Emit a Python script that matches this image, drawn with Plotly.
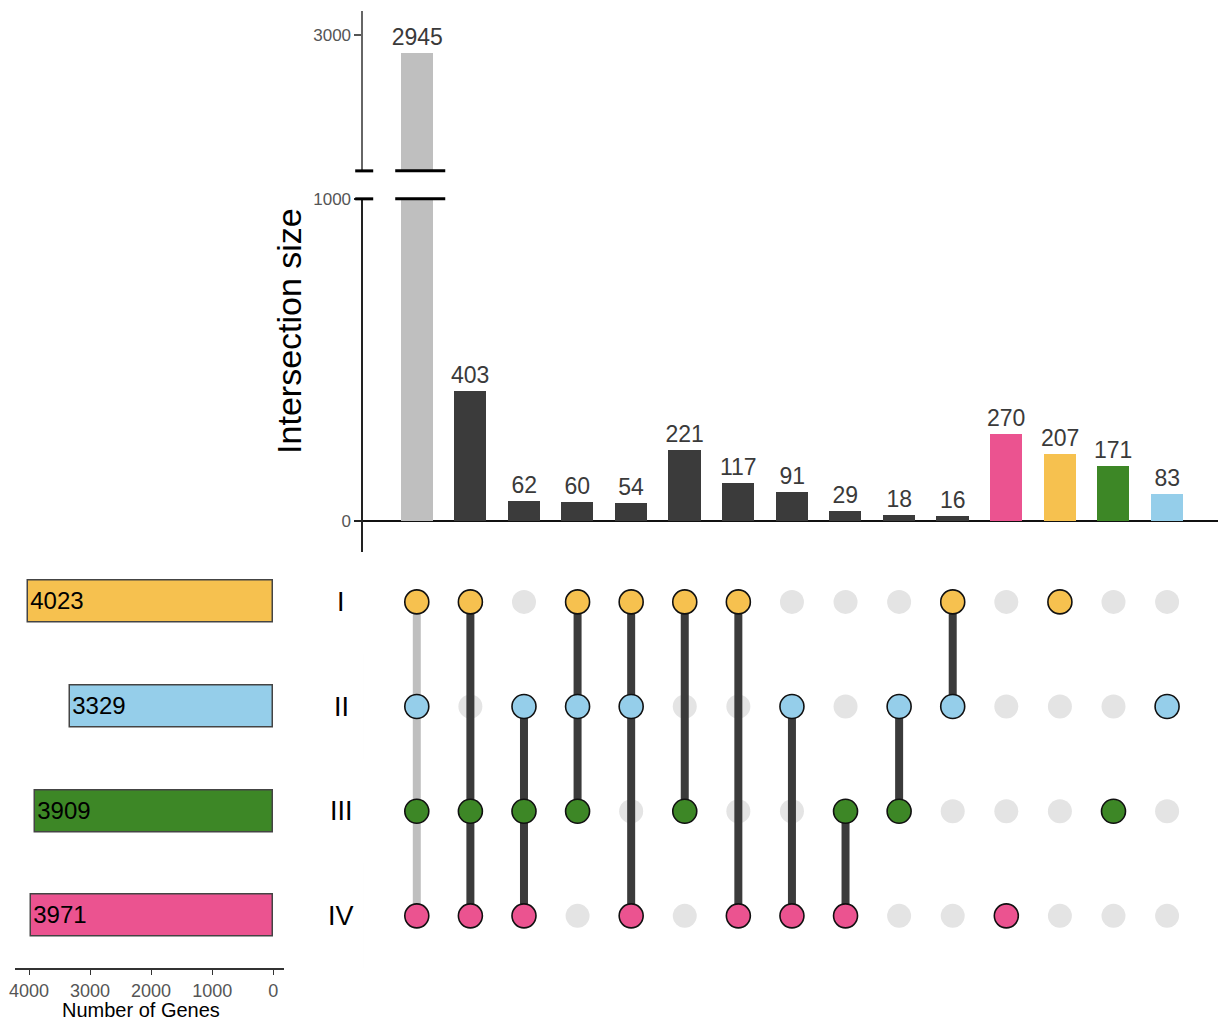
import plotly.graph_objects as go

# ---------------- data ----------------
set_names = ["I", "II", "III", "IV"]
set_sizes = [4023, 3329, 3909, 3971]
set_colors = ["#F6C14F", "#95CEEA", "#3D8726", "#EB5390"]

intersection_sizes = [2945, 403, 62, 60, 54, 221, 117, 91, 29, 18, 16, 270, 207, 171, 83]
intersection_members = [
    ["I", "II", "III", "IV"],
    ["I", "III", "IV"],
    ["II", "III", "IV"],
    ["I", "II", "III"],
    ["I", "II", "IV"],
    ["I", "III"],
    ["I", "IV"],
    ["II", "IV"],
    ["III", "IV"],
    ["II", "III"],
    ["I", "II"],
    ["IV"],
    ["I"],
    ["III"],
    ["II"],
]
bar_colors = ["#BFBFBF"] + ["#3B3B3B"] * 10 + ["#EB5390", "#F6C14F", "#3D8726", "#95CEEA"]
line_colors = ["#BFBFBF"] + ["#3B3B3B"] * 14

lower_ticks = [0, 1000]
upper_ticks = [3000]
set_ticks = [4000, 3000, 2000, 1000, 0]

# ---------------- layout helpers ----------------
W, H = 1218, 1020
FONT = "Liberation Sans, Arial, sans-serif"
OFFX, SCX = 6.0, 0.9945   # small calibration of page placement
OFFY, SCY = 8.0, 0.992


def px(x):
    return min(1.0, max(0.0, (x - OFFX) / SCX / W))


def py(y):
    return min(1.0, max(0.0, 1 - (y - OFFY) / SCY / H))


row_val = {name: len(set_names) - 1 - i for i, name in enumerate(set_names)}
cols = list(range(len(intersection_sizes)))

fig = go.Figure()

# ---- intersection bars (lower segment) ----
lower_text = ["" if v > 1000 else str(v) for v in intersection_sizes]
fig.add_trace(go.Bar(
    x=cols, y=intersection_sizes, xaxis="x", yaxis="y",
    width=0.6, marker=dict(color=bar_colors, line=dict(width=0)),
    text=lower_text, textposition="outside", cliponaxis=False, constraintext="none",
    textfont=dict(size=23, color="#3a3a3a", family=FONT),
    showlegend=False, hoverinfo="x+y",
))

# ---- intersection bars (upper segment, only the big one) ----
big = [i for i, v in enumerate(intersection_sizes) if v > 1000]
fig.add_trace(go.Bar(
    x=[cols[i] for i in big], y=[intersection_sizes[i] for i in big],
    xaxis="x", yaxis="y2", width=0.6,
    marker=dict(color=[bar_colors[i] for i in big], line=dict(width=0)),
    text=[str(intersection_sizes[i]) for i in big], textposition="outside",
    cliponaxis=False, constraintext="none",
    textfont=dict(size=23, color="#3a3a3a", family=FONT),
    showlegend=False,
))

# ---- matrix: inactive dots ----
in_x, in_y = [], []
for c, mem in zip(cols, intersection_members):
    for s in set_names:
        if s not in mem:
            in_x.append(c)
            in_y.append(row_val[s])
fig.add_trace(go.Scatter(
    x=in_x, y=in_y, xaxis="x", yaxis="y3", mode="markers",
    marker=dict(size=24, color="#E4E4E4", line=dict(width=0)),
    showlegend=False, hoverinfo="skip",
))

# ---- matrix: connecting lines ----
for color in sorted(set(line_colors)):
    lx, ly = [], []
    for c, mem in zip(cols, intersection_members):
        if line_colors[c] != color or len(mem) < 2:
            continue
        vals = [row_val[m] for m in mem]
        lx += [c, c, None]
        ly += [min(vals), max(vals), None]
    fig.add_trace(go.Scatter(
        x=lx, y=ly, xaxis="x", yaxis="y3", mode="lines",
        line=dict(color=color, width=8), showlegend=False, hoverinfo="skip",
    ))

# ---- matrix: active dots ----
ax_, ay_, ac_ = [], [], []
for c, mem in zip(cols, intersection_members):
    for s in mem:
        ax_.append(c)
        ay_.append(row_val[s])
        ac_.append(set_colors[set_names.index(s)])
fig.add_trace(go.Scatter(
    x=ax_, y=ay_, xaxis="x", yaxis="y3", mode="markers",
    marker=dict(size=24, color=ac_, line=dict(width=1.6, color="#111111")),
    showlegend=False, hoverinfo="skip",
))

# ---- set size bars ----
fig.add_trace(go.Bar(
    x=set_sizes, y=[row_val[s] for s in set_names], orientation="h",
    xaxis="x2", yaxis="y3", width=0.4,
    marker=dict(color=set_colors, line=dict(color="#444444", width=1.5)),
    text=[str(v) for v in set_sizes], textposition="inside", insidetextanchor="end",
    constraintext="none",
    insidetextfont=dict(size=24, color="#000000", family=FONT),
    showlegend=False,
))

# ---------------- shapes ----------------
shapes = []
# alternating row bands
for s in set_names:
    if set_names.index(s) % 2 == 1:
        v = row_val[s]
        shapes.append(dict(type="rect", xref="x domain", yref="y3", x0=0, x1=1,
                           y0=v - 0.5, y1=v + 0.5, fillcolor="#F6F6F6",
                           line=dict(width=0), layer="below"))
# axis break marks
for yb in (170, 198):
    for xa, xb in ((355, 373), (395, 445)):
        shapes.append(dict(type="line", xref="paper", yref="paper",
                           x0=px(xa), x1=px(xb), y0=py(yb), y1=py(yb),
                           line=dict(color="#000000", width=3)))

# ---------------- annotations ----------------
annotations = [
    dict(text="Intersection size", x=px(289), y=py(330), xref="paper", yref="paper",
         xanchor="center", yanchor="middle",
         textangle=-90, showarrow=False, font=dict(size=34, color="#000000", family=FONT)),
    dict(text="Number of Genes", x=px(141), y=py(1010), xref="paper", yref="paper",
         xanchor="center", yanchor="middle",
         showarrow=False, font=dict(size=20, color="#000000", family=FONT)),
]
for s in set_names:
    annotations.append(dict(text=s, x=px(341), y=row_val[s], xref="paper", yref="y3",
                            xanchor="center", yanchor="middle",
                            showarrow=False, font=dict(size=27, color="#000000", family=FONT)))

fig.update_layout(
    width=W, height=H,
    margin=dict(l=0, r=0, t=0, b=0),
    paper_bgcolor="white", plot_bgcolor="white",
    font=dict(family=FONT),
    bargap=0,
    xaxis=dict(domain=[px(363), 1], range=[-1.0, 14.95], anchor="y",
               showticklabels=False, showline=False, showgrid=False, zeroline=False, ticks=""),
    yaxis=dict(domain=[py(551), py(198)], range=[-96, 1000], anchor="x",
               tickvals=lower_ticks, ticks="outside", ticklen=7, tickwidth=1.5, tickcolor="#222",
               tickfont=dict(size=17, color="#555555"),
               showline=True, linecolor="#222222", linewidth=1.5,
               showgrid=False, zeroline=True, zerolinecolor="#111111", zerolinewidth=2),
    yaxis2=dict(domain=[py(170), py(10)], range=[2578, 3075], anchor="x",
                tickvals=upper_ticks, ticks="outside", ticklen=7, tickwidth=1.5, tickcolor="#555",
                tickfont=dict(size=17, color="#555555"),
                showline=True, linecolor="#666666", linewidth=1.5,
                showgrid=False, zeroline=False),
    yaxis3=dict(domain=[py(968), py(549)], range=[-0.5, 3.5], anchor="x",
                visible=False, showgrid=False, zeroline=False),
    xaxis2=dict(domain=[px(15), px(284)], range=[4230, -180], anchor="y3",
                tickvals=set_ticks, ticks="outside", ticklen=5, tickwidth=1.2, tickcolor="#333",
                tickfont=dict(size=18, color="#555555"),
                showline=True, linecolor="#333333", linewidth=1.5,
                showgrid=False, zeroline=False),
    shapes=shapes,
    annotations=annotations,
)

fig.write_html("out.html", config={"displayModeBar": False},
               post_script="document.body.style.margin='0';")
